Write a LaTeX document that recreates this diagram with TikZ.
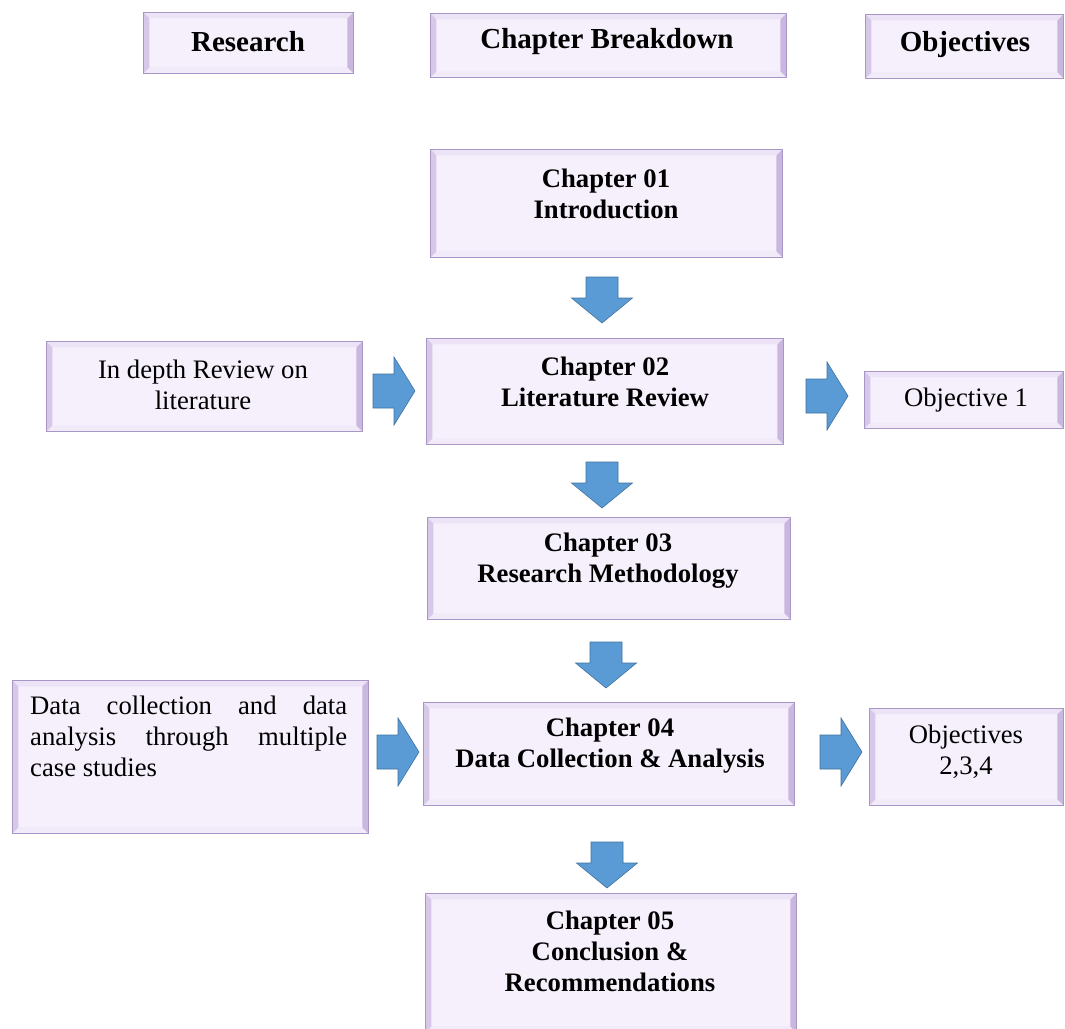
\documentclass[tikz,border=0pt]{standalone}
\usepackage{fontspec}
\setmainfont{Liberation Serif}
\definecolor{boxfill}{HTML}{F6F0FC}
\definecolor{bevtop}{HTML}{ECE3F7}
\definecolor{bevleft}{HTML}{D7C8EA}
\definecolor{bevright}{HTML}{CAB7E0}
\definecolor{bevbot}{HTML}{F1EAF9}
\definecolor{bevline}{HTML}{A897C6}
\definecolor{arrfill}{HTML}{5B9BD5}
\definecolor{arrline}{HTML}{41719C}
\tikzset{
  bev/.style={draw=bevline, line width=0.9pt, fill=boxfill, inner sep=0pt, anchor=north west,
    path picture={
      \path (path picture bounding box.north west) coordinate (pA)
            (path picture bounding box.north east) coordinate (pB)
            (path picture bounding box.south east) coordinate (pC)
            (path picture bounding box.south west) coordinate (pD);
      \fill[bevtop] (pA) -- (pB) -- ([shift={(-6,-6)}]pB) -- ([shift={(6,-6)}]pA) -- cycle;
      \fill[bevbot] (pD) -- (pC) -- ([shift={(-6,6)}]pC) -- ([shift={(6,6)}]pD) -- cycle;
      \fill[bevleft] (pA) -- (pD) -- ([shift={(6,6)}]pD) -- ([shift={(6,-6)}]pA) -- cycle;
      \fill[bevright] (pB) -- (pC) -- ([shift={(-6,6)}]pC) -- ([shift={(-6,-6)}]pB) -- cycle;
    }},
  hd/.style={font=\fontsize{29}{33}\selectfont\bfseries, inner sep=0pt},
  chap/.style={font=\fontsize{26.7}{31}\selectfont\bfseries, align=center, inner sep=0pt},
  txt/.style={font=\fontsize{26.7}{31}\selectfont, align=center, inner sep=0pt},
  blk/.style={fill=arrfill, draw=arrline, line width=0.6pt, line join=miter},
  pics/downblk/.style={code={
    \draw[blk] (-16,0) -- (16,0) -- (16,-21) -- (30.5,-21) -- (0,-46) -- (-30.5,-21) -- (-16,-21) -- cycle;}},
  pics/rightblk/.style={code={
    \draw[blk] (0,17) -- (21,17) -- (21,34) -- (42,0) -- (21,-34) -- (21,-17) -- (0,-17) -- cycle;}},
}
% box from top-left corner (x1,y1) to bottom-right corner (x2,y2), y measured downwards
\newcommand\bevbox[5]{\node[bev, minimum width={#4-#2}, minimum height={#5-#3}] (#1) at (#2,-#3) {};}
\begin{document}
\begin{tikzpicture}[x=1pt,y=1pt]
\useasboundingbox (0,0) rectangle (1065,-1028);
\clip (0,0) rectangle (1065,-1028);

% column headers
\bevbox{research}{143}{12}{353}{73}
\bevbox{breakdown}{430}{13}{786}{77}
\bevbox{objectives}{865}{14}{1063}{78}
\node[hd] (researchT) at (248,-42) {Research};
\node[hd] (breakdownT) at (607,-42) {Chapter Breakdown};
\node[hd] (objectivesT) at (965,-45) {Objectives};

% chapters
\bevbox{ch1}{430}{149}{782}{257}
\node[chap] (ch1T) at (606,-194) {Chapter 01\\Introduction};

\bevbox{ch2}{426}{338}{783}{444}
\node[chap] (ch2T) at (605,-382) {Chapter 02\\Literature Review};

\bevbox{ch3}{427}{517}{790}{619}
\node[chap] (ch3T) at (608,-561) {Chapter 03\\Research Methodology};

\bevbox{ch4}{423}{702}{794}{805}
\node[chap] (ch4T) at (610,-746) {Chapter 04\\Data Collection \& Analysis};

\bevbox{ch5}{425}{893}{796}{1032}
\node[chap] (ch5T) at (610,-951) {Chapter 05\\Conclusion \&\\Recommendations};

% research side
\bevbox{review}{46}{341}{362}{431}
\node[txt] (reviewT) at (203,-385) {In depth Review on\\literature};

\bevbox{data}{12}{680}{368}{833}
\node[font=\fontsize{26.7}{31}\selectfont, text width=317pt, align=justify, inner sep=0pt, anchor=north west]
  (dataT) at (30,-696) {\hyphenpenalty=10000 Data collection and data\linebreak analysis through multiple\linebreak case studies};

% objectives side
\bevbox{obj1}{864}{371}{1063}{428}
\node[txt] (obj1T) at (966,-400) {Objective 1};

\bevbox{obj2}{869}{708}{1063}{805}
\node[txt] (obj2T) at (966,-752) {Objectives\\2,3,4};

% block arrows
\pic (d1) at (602,-277) {downblk};
\pic (d2) at (602,-462) {downblk};
\pic (d3) at (606,-642) {downblk};
\pic (d4) at (607,-842) {downblk};
\pic (r1) at (373,-391) {rightblk};
\pic (r2) at (806,-396) {rightblk};
\pic (r3) at (377,-752) {rightblk};
\pic (r4) at (820,-752) {rightblk};
\end{tikzpicture}
\end{document}
